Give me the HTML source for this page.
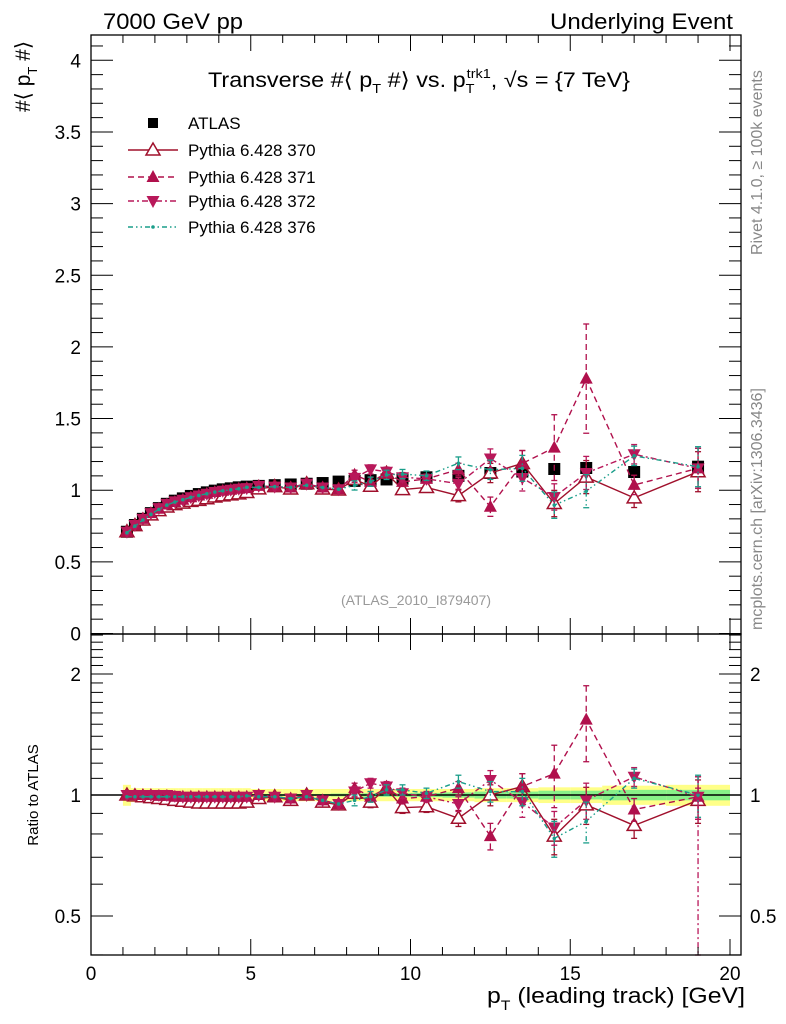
<!DOCTYPE html>
<html><head><meta charset="utf-8"><style>
body{margin:0;background:#fff;}
svg{display:block;font-family:"Liberation Sans",sans-serif;}
</style></head><body>
<svg id="c" width="786" height="1024" viewBox="0 0 786 1024" xmlns="http://www.w3.org/2000/svg">
<text x="103" y="29" font-size="22" textLength="140" lengthAdjust="spacingAndGlyphs">7000 GeV pp</text>
<text x="550" y="29" font-size="22" textLength="183" lengthAdjust="spacingAndGlyphs">Underlying Event</text>
<text x="208" y="87" font-size="21" textLength="422" lengthAdjust="spacingAndGlyphs">Transverse #⟨ p<tspan font-size="13" dy="6">T</tspan><tspan dy="-6"> #⟩ vs. p</tspan><tspan font-size="13" dy="6">T</tspan><tspan font-size="13" dx="-7" dy="-15">trk1</tspan><tspan dy="9">, √s = {7 TeV}</tspan></text>
<text transform="translate(30,112) rotate(-90)" font-size="21">#⟨ p<tspan font-size="13" dy="7">T</tspan><tspan dy="-7"> #⟩</tspan></text>
<text transform="translate(38,795) rotate(-90)" font-size="15" text-anchor="middle">Ratio to ATLAS</text>
<text x="487" y="1003" font-size="22" textLength="258" lengthAdjust="spacingAndGlyphs">p<tspan font-size="14" dy="7">T</tspan><tspan dy="-7"> (leading track) [GeV]</tspan></text>
<text transform="translate(762,255) rotate(-90)" font-size="16" fill="#888">Rivet 4.1.0, ≥ 100k events</text>
<text transform="translate(762,630) rotate(-90)" font-size="16" fill="#888">mcplots.cern.ch [arXiv:1306.3436]</text>
<text x="416" y="605" font-size="14" fill="#999" text-anchor="middle">(ATLAS_2010_I879407)</text>
<g id="bands"></g><g id="marks"></g><g id="axes"></g>
<g id="legend"></g>
</svg>
<script>
const xs=[1.125,1.375,1.625,1.875,2.125,2.375,2.625,2.875,3.125,3.375,3.625,3.875,4.125,4.375,4.625,4.875,5.25,5.75,6.25,6.75,7.25,7.75,8.25,8.75,9.25,9.75,10.5,11.5,12.5,13.5,14.5,15.5,17,19];
const xw=[0.125,0.125,0.125,0.125,0.125,0.125,0.125,0.125,0.125,0.125,0.125,0.125,0.125,0.125,0.125,0.125,0.25,0.25,0.25,0.25,0.25,0.25,0.25,0.25,0.25,0.25,0.5,0.5,0.5,0.5,0.5,0.5,1,1];
const atlas=[0.71,0.757,0.80,0.84,0.875,0.905,0.927,0.943,0.96,0.973,0.985,0.997,1.006,1.013,1.02,1.025,1.03,1.035,1.04,1.045,1.05,1.06,1.065,1.07,1.075,1.08,1.09,1.10,1.12,1.13,1.148,1.155,1.127,1.164];
const bandTot=[0.06,0.04,0.04,0.04,0.04,0.04,0.04,0.04,0.04,0.04,0.04,0.04,0.04,0.04,0.04,0.04,0.035,0.035,0.035,0.035,0.035,0.035,0.035,0.035,0.035,0.035,0.035,0.035,0.04,0.04,0.045,0.045,0.055,0.06];
const bandStat=[0.01,0.005,0.005,0.005,0.005,0.005,0.005,0.005,0.005,0.005,0.005,0.005,0.005,0.005,0.005,0.005,0.006,0.006,0.006,0.006,0.006,0.008,0.008,0.01,0.01,0.01,0.012,0.015,0.02,0.02,0.025,0.025,0.03,0.03];
const r370=[1.0,0.995,0.99,0.985,0.98,0.975,0.97,0.965,0.96,0.955,0.955,0.955,0.955,0.955,0.955,0.96,0.98,0.99,0.97,1.0,0.96,0.945,1.01,0.96,1.04,0.93,0.935,0.875,1.0,1.05,0.79,0.945,0.84,0.97];
const r371=[1.0,1.0,1.0,1.0,0.995,0.995,0.99,0.99,0.99,0.99,0.99,0.99,0.99,0.99,0.99,0.99,1.0,0.99,0.98,1.0,0.97,0.95,1.04,0.99,1.04,0.98,0.99,1.04,0.79,1.05,1.13,1.54,0.92,0.99];
const r372=[1.0,1.0,1.0,1.0,1.0,1.0,0.995,0.99,0.99,0.99,0.99,0.99,0.99,0.99,0.99,0.99,1.0,0.99,0.98,1.0,0.97,0.95,1.02,1.07,1.05,1.01,0.99,0.95,1.09,0.96,0.83,0.97,1.11,0.99];
const r376=[0.99,0.99,0.99,0.99,0.99,0.99,0.99,0.99,0.99,0.99,0.99,0.99,0.99,0.99,0.99,0.995,0.99,0.99,0.98,0.99,0.97,0.95,0.97,0.99,1.03,1.03,1.01,1.08,1.02,1.02,0.78,0.86,1.10,1.0];
const errMC=[0.01,0.01,0.01,0.01,0.01,0.01,0.01,0.01,0.01,0.01,0.01,0.01,0.01,0.01,0.01,0.01,0.015,0.015,0.015,0.015,0.015,0.015,0.03,0.03,0.03,0.03,0.03,0.04,0.06,0.08,0.08,0.1,0.06,0.12];
const err371=[0.01,0.01,0.01,0.01,0.01,0.01,0.01,0.01,0.01,0.01,0.01,0.01,0.01,0.01,0.01,0.01,0.015,0.015,0.015,0.015,0.015,0.015,0.03,0.03,0.03,0.03,0.03,0.04,0.06,0.08,0.2,0.33,0.06,0.12];
const yTicks=[0,0.5,1,1.5,2,2.5,3,3.5,4];
const rTicks=[0.5,1,2];
const xTicks=[0,5,10,15,20];

const NS='http://www.w3.org/2000/svg';
const L=91,R=741,T=35,MB=634,RB=955;
const X=v=>L+v*(730-91)/20;
const Y=v=>633.5-v*143.3;
const RY=v=>795-121*Math.log2(v);
function el(tag,attrs,parent){const e=document.createElementNS(NS,tag);for(const k in attrs)e.setAttribute(k,attrs[k]);parent.appendChild(e);return e;}
const bands=document.getElementById('bands'),marks=document.getElementById('marks'),axes=document.getElementById('axes'),leg=document.getElementById('legend');

xs.forEach((x,i)=>{
  let r=el('rect',{x:X(x-xw[i]),y:RY(1+bandTot[i]),width:X(x+xw[i])-X(x-xw[i]),height:RY(1-bandTot[i])-RY(1+bandTot[i]),fill:'#ffff88'},bands);
  
  
  let g=el('rect',{x:X(x-xw[i]),y:RY(1+bandStat[i]),width:X(x+xw[i])-X(x-xw[i]),height:RY(1-bandStat[i])-RY(1+bandStat[i]),fill:'#88f088'},bands);
  
  
});
let ref=el('line',{x1:L,x2:R,y1:795,y2:795,stroke:'#000','stroke-width':1.5},bands);



const series=[
 {name:'Pythia 6.428 370',key:'370',r:r370,err:errMC,color:'#a0102c',dash:'',marker:'tri-open'},
 {name:'Pythia 6.428 371',key:'371',r:r371,err:err371,color:'#b0104c',dash:'6,4',marker:'tri-up'},
 {name:'Pythia 6.428 372',key:'372',r:r372,err:errMC,color:'#b8185a',dash:'6,3,2,3',marker:'tri-down'},
 {name:'Pythia 6.428 376',key:'376',r:r376,err:errMC,color:'#1a9e8a',dash:'5,3,1.5,3,1.5,3',marker:'dot'}
];
function marker(type,cx,cy,color,parent,name){
  let m;
  if(type==='tri-open') m=el('path',{d:`M${cx},${cy-7}L${cx+7},${cy+5}L${cx-7},${cy+5}Z`,fill:'#fff',stroke:color,'stroke-width':1.5},parent);
  else if(type==='tri-up') m=el('path',{d:`M${cx},${cy-7}L${cx+6.5},${cy+5}L${cx-6.5},${cy+5}Z`,fill:color},parent);
  else if(type==='tri-down') m=el('path',{d:`M${cx},${cy+7}L${cx+6.5},${cy-5}L${cx-6.5},${cy-5}Z`,fill:color},parent);
  else if(type==='dot') m=el('circle',{cx:cx,cy:cy,r:1.8,fill:color},parent);
  else m=el('rect',{x:cx-6,y:cy-6,width:12,height:12,fill:'#000'},parent);
  
  
  return m;
}
function errbar(x,y1,y2,color,dash,parent){
  const g=el('g',{stroke:color,'stroke-width':1.3},parent);
  el('line',{x1:x,x2:x,y1:y1,y2:y2,'stroke-dasharray':dash},g);
  el('line',{x1:x-3,x2:x+3,y1:y1,y2:y1},g);
  el('line',{x1:x-3,x2:x+3,y1:y2,y2:y2},g);
  
  
}
xs.forEach((x,i)=>{
  const yv=atlas[i], e=bandStat[i]*yv;
  el('line',{x1:X(x),x2:X(x),y1:Y(yv+e)-1,y2:Y(yv-e)+1,stroke:'#000','stroke-width':1.2},marks);
  marker('sq',X(x),Y(yv),'#000',marks,'atlas-point');
});
series.forEach(s=>{
  const mv=s.r.map((r,i)=>r*atlas[i]);
  const p=el('polyline',{points:xs.map((x,i)=>X(x)+','+Y(mv[i])).join(' '),fill:'none',stroke:s.color,'stroke-width':1.4,'stroke-dasharray':s.dash},marks);
  
  
  const rp=el('polyline',{points:xs.map((x,i)=>X(x)+','+RY(s.r[i])).join(' '),fill:'none',stroke:s.color,'stroke-width':1.4,'stroke-dasharray':s.dash},marks);
  
  
  xs.forEach((x,i)=>{
    const e=s.err[i];
    if(e>0.02){
      errbar(X(x),Y(mv[i]+e*atlas[i]),Y(mv[i]-e*atlas[i]),s.color,s.dash,marks);
      errbar(X(x),RY(s.r[i]+e),Math.min(RY(Math.max(s.r[i]-e,0.3)),RB),s.color,s.dash,marks);
    }
    marker(s.marker,X(x),Y(mv[i]),s.color,marks,'point-'+s.key);
    marker(s.marker,X(x),RY(s.r[i]),s.color,marks,'ratio-point-'+s.key);
  });
});
errbar(X(19),RY(1.04),RB,'#b8185a','6,3,2,3',marks);

[[T,MB],[MB,RB]].forEach(([t,b],k)=>{
  const f=el('rect',{x:L,y:t,width:R-L,height:b-t,fill:'none',stroke:'#000','stroke-width':1.3},axes);
  
  
});
for(let v=0;v<=20.01;v+=1){
  const major=Math.abs(v%5)<0.01, len=major?16:8;
  [[T,1],[MB,-1],[MB,1],[RB,-1]].forEach(([y0,d])=>{
    el('line',{x1:X(v),x2:X(v),y1:y0,y2:y0+d*len,stroke:'#000','stroke-width':1},axes);
  });
}
xTicks.forEach(v=>{
  const t=el('text',{x:X(v),y:980,'font-size':19,'text-anchor':'middle'},axes);
  t.textContent=v;
  
  
});
for(let k=0;k<=41;k++){
  const v=k/10, major=k%5===0, len=major?22:12;
  el('line',{x1:L,x2:L+len,y1:Y(v),y2:Y(v),stroke:'#000','stroke-width':1},axes);
  el('line',{x1:R,x2:R-len,y1:Y(v),y2:Y(v),stroke:'#000','stroke-width':1},axes);
}
yTicks.forEach(v=>{
  const t=el('text',{x:81,y:Y(v)+7,'font-size':19,'text-anchor':'end'},axes);
  t.textContent=v;
  
  
});
const rt=[];for(let k=4;k<=25;k++)rt.push(k/10);
rt.forEach(v=>{
  const major=[0.5,1,2].includes(v), len=major?22:12;
  el('line',{x1:L,x2:L+len,y1:RY(v),y2:RY(v),stroke:'#000','stroke-width':1},axes);
  el('line',{x1:R,x2:R-len,y1:RY(v),y2:RY(v),stroke:'#000','stroke-width':1},axes);
});
rTicks.forEach(v=>{
  const t=el('text',{x:81,y:RY(v)+7,'font-size':19,'text-anchor':'end'},axes);
  t.textContent=v;
  
  
  const t2=el('text',{x:750,y:RY(v)+7,'font-size':19},axes);
  t2.textContent=v;
  
  
});
const ly=[123,150,177,201,227];
const lt=el('text',{x:188,y:ly[0]+6,'font-size':17},leg);lt.textContent='ATLAS';


const lm=el('rect',{x:148,y:ly[0]-5,width:10,height:10,fill:'#000'},leg);


series.forEach((s,i)=>{
  const y=ly[i+1];
  const ln=el('line',{x1:128,x2:178,y1:y,y2:y,stroke:s.color,'stroke-width':1.4,'stroke-dasharray':s.dash},leg);
  
  
  marker(s.marker,153,y,s.color,leg,'legend-marker-'+s.key);
  const t=el('text',{x:188,y:y+6,'font-size':17},leg);
  t.textContent=s.name;
  
  
});
</script>
</body></html>
